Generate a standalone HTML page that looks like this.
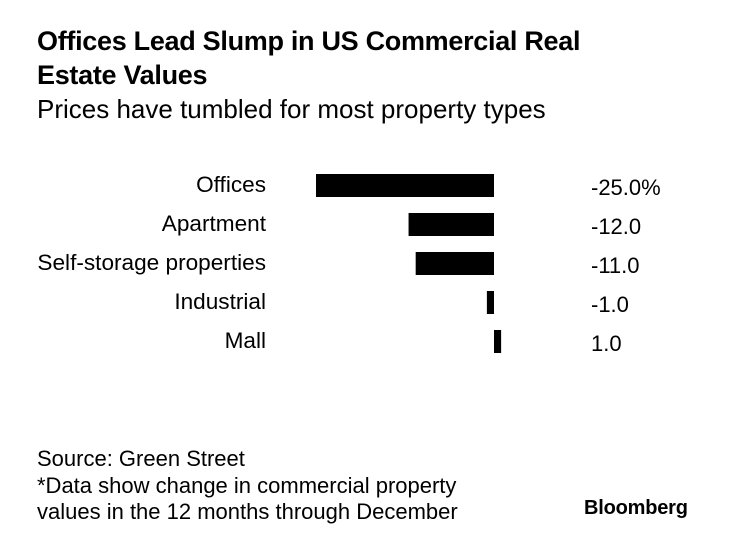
<!DOCTYPE html>
<html><head><meta charset="utf-8"><style>
body{margin:0;background:#fff;width:736px;height:546px;overflow:hidden;font-family:"Liberation Sans",sans-serif;color:#000}
.t{position:absolute;white-space:nowrap}
</style></head><body>
<div class="t" style="left:37px;top:24px;font-size:27px;font-weight:bold;line-height:34px;letter-spacing:-0.3px">Offices Lead Slump in US Commercial Real<br>Estate Values</div>
<div class="t" style="left:37px;top:94px;font-size:26px;line-height:30px">Prices have tumbled for most property types</div>
<svg id="chart" width="736" height="546" style="position:absolute;left:0;top:0"></svg>
<div class="t" style="left:37px;top:446px;font-size:22px;line-height:26.5px">Source: Green Street<br>*Data show change in commercial property<br>values in the 12 months through December</div>
<div class="t" style="left:584px;top:497px;font-size:20px;font-weight:bold;letter-spacing:-0.2px">Bloomberg</div>
<script>
const categories=["Offices","Apartment","Self-storage properties","Industrial","Mall"];
const values=[-25,-12,-11,-1,1];
const valueLabels=["-25.0%","-12.0","-11.0","-1.0","1.0"];
const svg=document.getElementById('chart');
const NS='http://www.w3.org/2000/svg';
const zeroX=494, scale=7.12, top0=174, step=39, bh=23;
const x=v=>zeroX+v*scale;
categories.forEach((c,i)=>{
  const y=top0+i*step;
  const r=document.createElementNS(NS,'rect');
  r.setAttribute('x',Math.min(x(0),x(values[i])));
  r.setAttribute('y',y);
  r.setAttribute('width',Math.max(Math.abs(x(values[i])-x(0)),1));
  r.setAttribute('height',bh);
  r.setAttribute('fill','#000');
  
  
  svg.appendChild(r);
  const l=document.createElementNS(NS,'text');
  l.setAttribute('x',266);l.setAttribute('y',y+18);
  l.setAttribute('text-anchor','end');l.setAttribute('font-size','22.6');
  l.setAttribute('font-family','Liberation Sans, sans-serif');
  l.textContent=c;
  
  
  svg.appendChild(l);
  const v=document.createElementNS(NS,'text');
  v.setAttribute('x',591);v.setAttribute('y',y+21);
  v.setAttribute('font-size','22');
  v.setAttribute('font-family','Liberation Sans, sans-serif');
  v.textContent=valueLabels[i];
  
  
  svg.appendChild(v);
});
</script>
</body></html>
